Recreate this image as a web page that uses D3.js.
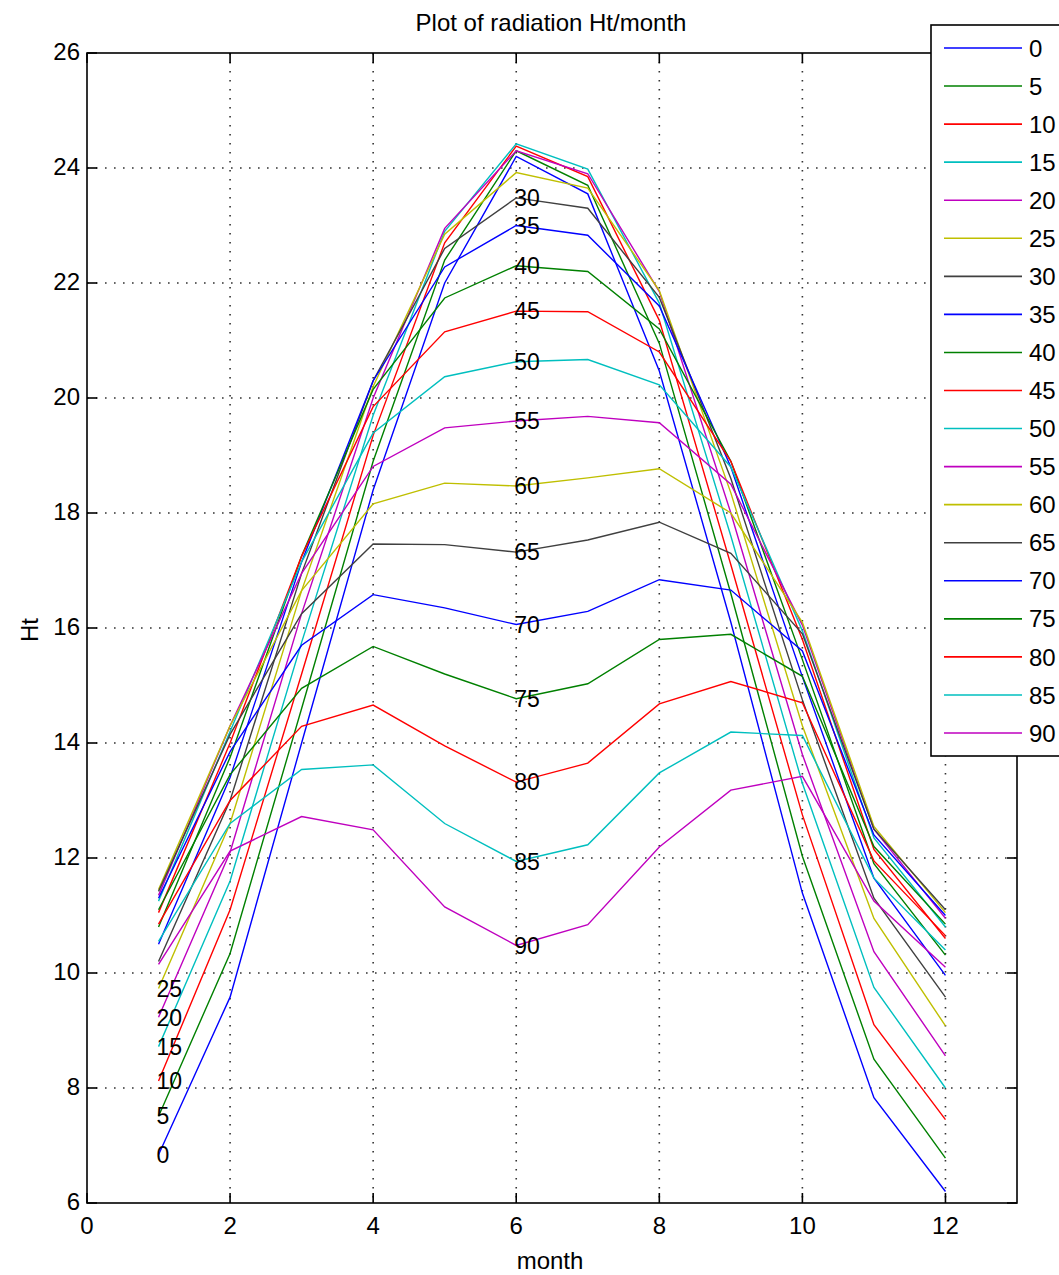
<!DOCTYPE html>
<html>
<head>
<meta charset="utf-8">
<script src="https://cdn.jsdelivr.net/npm/d3@7"></script>
<style>
  html, body { margin: 0; padding: 0; background: #fff; }
  svg { display: block; }
  text { font-family: "Liberation Sans", Arial, sans-serif; fill: #000; }
</style>
</head>
<body>
<svg id="chart" width="1059" height="1275"></svg>
<script>
// ---------------- data ----------------
const months = [1, 2, 3, 4, 5, 6, 7, 8, 9, 10, 11, 12];
const tilts = [0, 5, 10, 15, 20, 25, 30, 35, 40, 45, 50, 55, 60, 65, 70, 75, 80, 85, 90];
const xTicks = [0, 2, 4, 6, 8, 10, 12];
const yTicks = [6, 8, 10, 12, 14, 16, 18, 20, 22, 24, 26];

const ht0  = [6.84, 9.58, 14.0, 18.4, 22.0, 24.2, 23.55, 20.47, 16.1, 11.39, 7.83, 6.2];
const ht5  = [7.51, 10.34, 14.6, 18.9, 22.4, 24.3, 23.7, 20.95, 16.6, 12.03, 8.5, 6.78];
const ht10 = [8.12, 11.1, 15.2, 19.35, 22.7, 24.38, 23.85, 21.35, 17.1, 12.75, 9.1, 7.45];
const ht15 = [8.72, 11.6, 15.75, 19.7, 22.9, 24.42, 23.98, 21.65, 17.6, 13.3, 9.75, 8.0];
const ht20 = [9.23, 12.1, 16.25, 20.0, 22.95, 24.3, 23.9, 21.85, 18.0, 13.8, 10.37, 8.56];
const ht25 = [9.73, 12.6, 16.65, 20.2, 22.85, 23.92, 23.65, 21.87, 18.35, 14.3, 10.95, 9.08];
const ht30 = [10.2, 13.0, 16.95, 20.3, 22.6, 23.48, 23.3, 21.75, 18.6, 14.75, 11.3, 9.58];
const ht35 = [10.5, 13.4, 17.15, 20.3, 22.28, 23.0, 22.83, 21.6, 18.8, 15.15, 11.65, 9.96];
const ht40 = [10.8, 13.75, 17.25, 20.15, 21.74, 22.3, 22.2, 21.2, 18.9, 15.45, 11.9, 10.31];
const ht45 = [11.05, 14.0, 17.25, 19.85, 21.15, 21.51, 21.5, 20.8, 18.9, 15.8, 12.15, 10.6];
const ht50 = [11.25, 14.2, 17.15, 19.39, 20.37, 20.63, 20.67, 20.23, 18.8, 15.95, 12.35, 10.8];
const ht55 = [11.35, 14.3, 16.95, 18.81, 19.48, 19.6, 19.68, 19.57, 18.5, 16.05, 12.5, 10.95];
const ht60 = [11.45, 14.3, 16.65, 18.16, 18.52, 18.47, 18.61, 18.77, 18.0, 16.1, 12.55, 11.05];
const ht65 = [11.42, 14.15, 16.25, 17.46, 17.45, 17.32, 17.53, 17.84, 17.3, 15.9, 12.5, 11.1];
const ht70 = [11.3, 13.85, 15.7, 16.58, 16.35, 16.06, 16.29, 16.84, 16.66, 15.6, 12.4, 11.0];
const ht75 = [11.1, 13.45, 14.95, 15.68, 15.2, 14.77, 15.03, 15.8, 15.89, 15.16, 12.2, 10.85];
const ht80 = [10.85, 13.0, 14.29, 14.66, 13.95, 13.32, 13.65, 14.68, 15.07, 14.7, 11.95, 10.65];
const ht85 = [10.55, 12.6, 13.54, 13.62, 12.6, 11.94, 12.23, 13.48, 14.19, 14.13, 11.65, 10.4];
const ht90 = [10.15, 12.12, 12.72, 12.49, 11.15, 10.48, 10.84, 12.19, 13.18, 13.42, 11.25, 10.1];

const seriesValues = [ht0, ht5, ht10, ht15, ht20, ht25, ht30, ht35, ht40, ht45,
                      ht50, ht55, ht60, ht65, ht70, ht75, ht80, ht85, ht90];
// month at which each tilt's in-plot label is written
const labelMonth = [1, 1, 1, 1, 1, 1, 6, 6, 6, 6, 6, 6, 6, 6, 6, 6, 6, 6, 6];
const palette = ["#0000ff", "#008000", "#ff0000", "#00bfbf", "#bf00bf", "#bfbf00", "#404040"];

// ---------------- layout ----------------
const svg = d3.select("#chart");
const L = 87, R = 1017, T = 53, B = 1203;
const x = d3.scaleLinear().domain([0, 13]).range([L, R]);
const y = d3.scaleLinear().domain([6, 26]).range([B, T]);
const color = (i) => palette[i % palette.length];
const FS = 24;

svg.append("rect").attr("width", 1059).attr("height", 1275).attr("fill", "#fff");

// grid
const grid = svg.append("g");
grid.selectAll(".gx").data(xTicks.filter(d => d > 0)).enter().append("line")
  .attr("x1", d => x(d)).attr("x2", d => x(d)).attr("y1", T).attr("y2", B)
  .attr("stroke", "#333").attr("stroke-width", 1.6).attr("stroke-dasharray", "1.6,7.4");
grid.selectAll(".gy").data(yTicks.filter(d => d > 6 && d < 26)).enter().append("line")
  .attr("y1", d => y(d)).attr("y2", d => y(d)).attr("x1", L).attr("x2", R)
  .attr("stroke", "#333").attr("stroke-width", 1.6).attr("stroke-dasharray", "1.6,7.4");

// lines
const line = d3.line().x((d, i) => x(months[i])).y(d => y(d));
svg.append("g").selectAll("path").data(seriesValues).enter().append("path")
  .attr("d", d => line(d)).attr("fill", "none")
  .attr("stroke", (d, i) => color(i)).attr("stroke-width", 1.4);

// in-plot labels
svg.append("g").selectAll("text").data(tilts).enter().append("text")
  .attr("x", (d, i) => x(labelMonth[i]) - 2)
  .attr("y", (d, i) => y(seriesValues[i][labelMonth[i] - 1]))
  .attr("dy", "0.36em")
  .attr("font-size", 23)
  .text(d => d);

// axes box
const ax = svg.append("g");
ax.append("rect").attr("x", L).attr("y", T).attr("width", R - L).attr("height", B - T)
  .attr("fill", "none").attr("stroke", "#000").attr("stroke-width", 1.6);
const tl = 10;
ax.selectAll(".tb").data(xTicks).enter().append("line")
  .attr("x1", d => x(d)).attr("x2", d => x(d)).attr("y1", B).attr("y2", B - tl)
  .attr("stroke", "#000").attr("stroke-width", 1.6);
ax.selectAll(".tt").data(xTicks).enter().append("line")
  .attr("x1", d => x(d)).attr("x2", d => x(d)).attr("y1", T).attr("y2", T + tl)
  .attr("stroke", "#000").attr("stroke-width", 1.6);
ax.selectAll(".tlft").data(yTicks).enter().append("line")
  .attr("y1", d => y(d)).attr("y2", d => y(d)).attr("x1", L).attr("x2", L + tl)
  .attr("stroke", "#000").attr("stroke-width", 1.6);
ax.selectAll(".trgt").data(yTicks).enter().append("line")
  .attr("y1", d => y(d)).attr("y2", d => y(d)).attr("x1", R).attr("x2", R - tl)
  .attr("stroke", "#000").attr("stroke-width", 1.6);

// tick labels
ax.selectAll(".xl").data(xTicks).enter().append("text")
  .attr("x", d => x(d)).attr("y", B + 31).attr("text-anchor", "middle")
  .attr("font-size", FS).text(d => d);
ax.selectAll(".yl").data(yTicks).enter().append("text")
  .attr("x", L - 7).attr("y", d => y(d)).attr("dy", "0.3em").attr("text-anchor", "end")
  .attr("font-size", FS).text(d => d);

// titles
svg.append("text").attr("x", 551).attr("y", 31).attr("text-anchor", "middle")
  .attr("font-size", 24).text("Plot of radiation Ht/month");
svg.append("text").attr("x", 550).attr("y", 1269).attr("text-anchor", "middle")
  .attr("font-size", FS).text("month");
svg.append("text").attr("transform", `translate(38,${(T + B) / 2 + 2}) rotate(-90)`)
  .attr("text-anchor", "middle").attr("font-size", FS).text("Ht");

// legend
const lg = svg.append("g");
const lgX = 931, lgY = 25, lgH = 731;
lg.append("rect").attr("x", lgX).attr("y", lgY).attr("width", 200).attr("height", lgH)
  .attr("fill", "#fff").attr("stroke", "#000").attr("stroke-width", 1.6);
const ly = d3.scaleLinear().domain([0, tilts.length - 1]).range([48, 733]);
const items = lg.selectAll(".li").data(tilts).enter().append("g");
items.append("line").attr("x1", 944).attr("x2", 1022)
  .attr("y1", (d, i) => ly(i)).attr("y2", (d, i) => ly(i))
  .attr("stroke", (d, i) => color(i)).attr("stroke-width", 1.6);
items.append("text").attr("x", 1029).attr("y", (d, i) => ly(i)).attr("dy", "0.36em")
  .attr("font-size", FS).text(d => d);
</script>
</body>
</html>
